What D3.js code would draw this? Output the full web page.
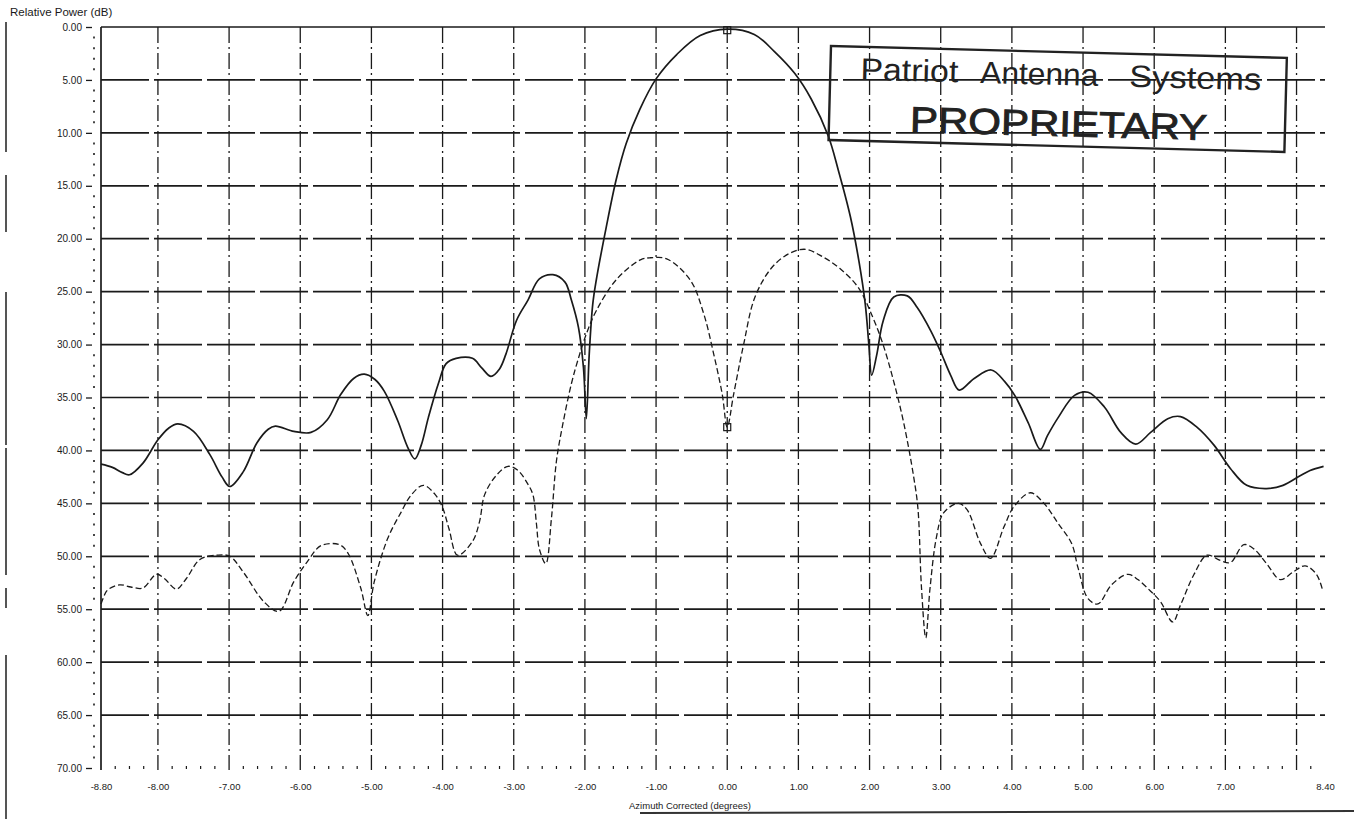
<!DOCTYPE html>
<html>
<head>
<meta charset="utf-8">
<script src="https://cdn.jsdelivr.net/npm/d3@7"></script>
<style>
  html, body { margin: 0; padding: 0; background: #ffffff; }
  svg { display: block; font-family: "Liberation Sans", Arial, sans-serif; }
</style>
</head>
<body>
<svg id="chart" width="1354" height="819"></svg>
<script>
// ---- data ----
const xTickValues = [-8.8, -8, -7, -6, -5, -4, -3, -2, -1, 0, 1, 2, 3, 4, 5, 6, 7, 8.4];
const xGridValues = [-8, -7, -6, -5, -4, -3, -2, -1, 0, 1, 2, 3, 4, 5, 6, 7, 8];
const yTickValues = [0, 5, 10, 15, 20, 25, 30, 35, 40, 45, 50, 55, 60, 65, 70];
const yGridValues = [0, 5, 10, 15, 20, 25, 30, 35, 40, 45, 50, 55, 60, 65];

// Sum pattern (solid line): azimuth (deg), relative power (dB below peak)
const sumAz = [-8.80,-8.64,-8.50,-8.40,-8.21,-8.00,-7.85,-7.72,-7.50,-7.27,-7.10,-6.99,-6.80,-6.61,-6.45,-6.35,-6.09,-5.85,-5.62,-5.43,-5.25,-5.10,-4.95,-4.82,-4.63,-4.49,-4.39,-4.30,-4.20,-4.06,-3.95,-3.81,-3.58,-3.45,-3.32,-3.20,-3.11,-2.96,-2.80,-2.64,-2.45,-2.28,-2.19,-2.09,-2.02,-1.98,-1.94,-1.89,-1.84,-1.70,-1.56,-1.42,-1.23,-1.00,-0.71,-0.38,0.00,0.38,0.66,0.95,1.18,1.42,1.56,1.73,1.85,1.94,1.99,2.03,2.10,2.19,2.34,2.53,2.67,2.86,3.00,3.14,3.26,3.47,3.71,3.90,4.04,4.23,4.40,4.50,4.65,4.88,5.07,5.30,5.53,5.74,5.95,6.19,6.37,6.60,6.84,7.07,7.30,7.58,7.81,8.05,8.19,8.38];
const sumDb = [41.3,41.6,42.1,42.3,41.2,39.0,37.9,37.5,38.2,40.4,42.5,43.4,42.0,39.3,38.0,37.7,38.2,38.3,37.1,34.7,33.2,32.8,33.3,34.4,37.2,39.7,40.8,39.5,36.9,33.7,31.8,31.3,31.3,32.2,33.0,32.3,30.9,27.7,25.8,23.8,23.4,24.1,25.8,28.4,32.2,37.0,31.0,26.2,23.9,18.9,14.4,11.0,7.8,4.9,2.6,0.8,0.2,0.7,2.3,4.4,6.8,10.3,13.5,17.9,22.1,26.2,30.0,32.9,31.0,27.8,25.5,25.4,26.5,28.7,30.7,32.9,34.3,33.2,32.4,33.5,34.8,37.4,39.9,38.6,36.9,34.8,34.5,35.9,38.3,39.4,38.3,37.0,36.8,37.8,39.5,41.7,43.3,43.6,43.3,42.4,41.9,41.5];

// Difference pattern (dashed line)
const diffAz = [-8.80,-8.76,-8.71,-8.54,-8.38,-8.21,-8.02,-7.91,-7.74,-7.60,-7.41,-7.17,-6.99,-6.80,-6.51,-6.30,-6.09,-5.90,-5.71,-5.45,-5.33,-5.15,-5.05,-4.96,-4.77,-4.58,-4.44,-4.27,-4.10,-4.00,-3.91,-3.79,-3.58,-3.48,-3.41,-3.25,-3.08,-2.94,-2.80,-2.73,-2.68,-2.64,-2.55,-2.47,-2.40,-2.31,-2.19,-2.10,-1.98,-1.84,-1.55,-1.22,-1.08,-0.85,-0.52,-0.33,-0.19,-0.07,0.00,0.09,0.23,0.39,0.63,0.87,1.10,1.34,1.58,1.84,2.05,2.19,2.34,2.48,2.62,2.68,2.73,2.79,2.85,2.94,3.04,3.25,3.37,3.56,3.70,3.89,4.03,4.26,4.45,4.65,4.84,4.93,5.07,5.21,5.40,5.63,5.77,5.95,6.09,6.26,6.37,6.56,6.74,6.93,7.07,7.26,7.40,7.58,7.77,7.95,8.12,8.28,8.37];
const diffDb = [54.5,53.8,53.2,52.7,52.9,53.0,51.7,52.1,53.1,52.1,50.3,49.9,50.0,51.5,54.3,55.2,52.4,50.5,49.0,48.9,49.7,53.0,55.6,52.4,48.3,45.8,44.2,43.3,44.2,45.4,47.4,49.9,48.6,46.7,44.2,42.4,41.5,41.9,43.2,44.2,47.0,49.3,50.7,46.4,41.0,37.5,33.7,31.5,29.0,26.8,23.8,22.0,21.8,21.9,23.9,27.1,30.9,34.7,37.8,34.7,30.0,25.5,22.7,21.4,21.0,21.7,22.8,24.6,27.5,30.0,33.5,37.4,42.5,45.5,53.0,57.7,53.0,48.2,45.9,45.0,45.6,48.8,50.2,47.2,45.3,44.0,45.0,46.9,48.8,51.1,54.0,54.5,52.7,51.7,52.2,53.3,54.3,56.2,54.6,51.7,49.9,50.4,50.6,48.9,49.3,50.7,52.2,51.5,50.9,51.7,53.3];

// cursor markers
const markerAz = [0, 0];
const markerDb = [37.8, 0.3];

const yTitle = "Relative Power (dB)";
const xTitle = "Azimuth Corrected (degrees)";
const stampWords = ["Patriot", "Antenna", "Systems"];
const stampLine2 = "PROPRIETARY";

// ---- drawing ----
const svg = d3.select("#chart");
const ink = "#1a1a1a";

const x = d3.scaleLinear().domain([-8.8, 8.4]).range([101, 1325]);
const y = d3.scaleLinear().domain([0, 70]).range([27, 768]);

// scan-border artefacts
const leftMarks = [[22,152],[175,232],[292,445],[448,575],[588,608],[655,819]];
svg.append("g").selectAll("line").data(leftMarks).join("line")
  .attr("x1", 6).attr("x2", 6).attr("y1", d => d[0]).attr("y2", d => d[1])
  .attr("stroke", "#555").attr("stroke-width", 2);
svg.append("line").attr("x1", 640).attr("x2", 1354).attr("y1", 813).attr("y2", 811)
  .attr("stroke", "#333").attr("stroke-width", 2);

// horizontal grid
svg.append("g").selectAll("line").data(yGridValues).join("line")
  .attr("x1", x(-8.8)).attr("x2", x(8.4))
  .attr("y1", d => y(d)).attr("y2", d => y(d))
  .attr("stroke", ink).attr("stroke-width", 1.7)
  .attr("stroke-dasharray", d => d === 0 ? null : "48,5");

// vertical grid
svg.append("g").selectAll("line").data(xGridValues).join("line")
  .attr("x1", d => x(d)).attr("x2", d => x(d))
  .attr("y1", y(0)).attr("y2", y(70) + 2)
  .attr("stroke", ink).attr("stroke-width", 1.3)
  .attr("stroke-dasharray", "16,4,2,4");

// left axis line
svg.append("line").attr("x1", x(-8.8)).attr("x2", x(-8.8))
  .attr("y1", y(0)).attr("y2", y(70) + 2)
  .attr("stroke", ink).attr("stroke-width", 1.7);

// minor dots on y axis (every 1 dB)
const yMinor = d3.range(0, 71, 1).filter(v => v % 5 !== 0);
svg.append("g").selectAll("line").data(yMinor).join("line")
  .attr("x1", 94).attr("x2", 94).attr("y1", d => y(d) - 1).attr("y2", d => y(d) + 1)
  .attr("stroke", ink).attr("stroke-width", 1.6);

// minor dots on x axis (every 0.2 deg)
const xMinor = d3.range(-8.6, 8.39, 0.2).filter(v => Math.abs(v - Math.round(v)) > 0.05);
svg.append("g").selectAll("line").data(xMinor).join("line")
  .attr("x1", d => x(d)).attr("x2", d => x(d)).attr("y1", y(70) - 2).attr("y2", y(70) + 1)
  .attr("stroke", ink).attr("stroke-width", 1.2);

// y axis labels
const yAxis = d3.axisLeft(y).tickValues(yTickValues)
  .tickFormat(d => d.toFixed(2)).tickSize(6).tickPadding(4);
const gy = svg.append("g").attr("transform", "translate(92,0)").call(yAxis);
gy.select(".domain").remove();
gy.selectAll(".tick line").attr("stroke", ink).attr("stroke-width", 1.3);
gy.selectAll(".tick text").attr("fill", ink).attr("font-size", 10)
  .attr("font-family", "Liberation Sans, Arial, sans-serif");

// x axis labels
const xAxis = d3.axisBottom(x).tickValues(xTickValues)
  .tickFormat(d => d.toFixed(2)).tickSize(0).tickPadding(15);
const gx = svg.append("g").attr("transform", `translate(0,${y(70)})`).call(xAxis);
gx.select(".domain").remove();
gx.selectAll(".tick text").attr("fill", ink).attr("font-size", 9.5)
  .attr("font-family", "Liberation Sans, Arial, sans-serif");

// titles
svg.append("text").attr("x", 10).attr("y", 16).attr("font-size", 11.5)
  .attr("fill", ink).text(yTitle);
svg.append("text").attr("x", 690).attr("y", 809).attr("text-anchor", "middle")
  .attr("font-size", 9.5).attr("fill", ink).text(xTitle);

// curves
const sumData = sumAz.map((a, i) => [a, sumDb[i]]);
const diffData = diffAz.map((a, i) => [a, diffDb[i]]);
const line = d3.line().x(d => x(d[0])).y(d => y(d[1])).curve(d3.curveCatmullRom.alpha(0.5));

svg.append("path").datum(diffData).attr("d", line)
  .attr("fill", "none").attr("stroke", ink).attr("stroke-width", 1.3)
  .attr("stroke-dasharray", "6,3");
svg.append("path").datum(sumData).attr("d", line)
  .attr("fill", "none").attr("stroke", ink).attr("stroke-width", 1.7);

// markers
svg.append("g").selectAll("rect").data(markerAz.map((a, i) => [a, markerDb[i]])).join("rect")
  .attr("x", d => x(d[0]) - 3.5).attr("y", d => y(d[1]) - 3.5)
  .attr("width", 7).attr("height", 7)
  .attr("fill", "none").attr("stroke", ink).attr("stroke-width", 1.2);

// stamp
const stamp = svg.append("g").attr("transform", "translate(831,46) rotate(1.5)");
stamp.append("rect").attr("x", 0).attr("y", 0).attr("width", 456).attr("height", 94)
  .attr("fill", "none").attr("stroke", "#222").attr("stroke-width", 2.4);
const wordX = [30, 150, 299];
const wordW = [98, 118, 132];
stamp.append("g").selectAll("text").data(stampWords).join("text")
  .attr("x", (d, i) => wordX[i]).attr("y", 33)
  .attr("font-size", 31)
  .attr("textLength", (d, i) => wordW[i]).attr("lengthAdjust", "spacingAndGlyphs")
  .attr("fill", "#222").text(d => d);
stamp.append("text").attr("x", 81).attr("y", 84).attr("font-size", 36)
  .attr("textLength", 297).attr("lengthAdjust", "spacingAndGlyphs")
  .attr("fill", "#222").attr("stroke", "#222").attr("stroke-width", 0.9)
  .text(stampLine2);
</script>
</body>
</html>
